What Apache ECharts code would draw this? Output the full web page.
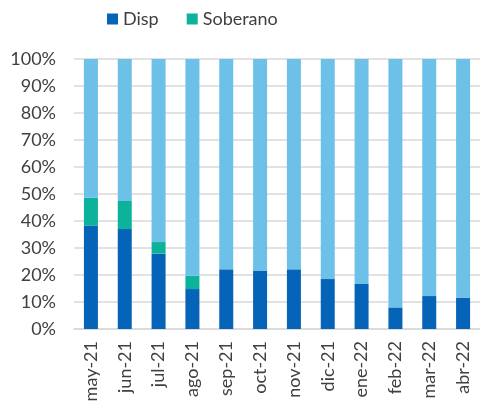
<!DOCTYPE html>
<html>
<head>
<meta charset="utf-8">
<script src="https://cdn.jsdelivr.net/npm/echarts@6/dist/echarts.min.js"></script>
<style>
  html, body { margin: 0; padding: 0; background: #fff; }
  #chart { width: 480px; height: 405px; }
</style>
</head>
<body>
<div id="chart"></div>
<script>
  const months = ['may-21', 'jun-21', 'jul-21', 'ago-21', 'sep-21', 'oct-21', 'nov-21', 'dic-21', 'ene-22', 'feb-22', 'mar-22', 'abr-22'];
  const disp = [38.3, 37.0, 27.9, 14.8, 22.1, 21.5, 22.1, 18.5, 16.7, 8.0, 12.2, 11.6];
  const soberano = [10.3, 10.4, 4.3, 4.9, 0, 0, 0, 0, 0, 0, 0, 0];
  const resto = [51.4, 52.6, 67.8, 80.3, 77.9, 78.5, 77.9, 81.5, 83.3, 92.0, 87.8, 88.4];

  const chart = echarts.init(document.getElementById('chart'));

  chart.setOption({
    animation: false,
    textStyle: { fontFamily: 'Lato' },
    legend: {
      data: ['Disp', 'Soberano'],
      top: 5,
      left: 102,
      itemWidth: 11,
      itemHeight: 11,
      itemGap: 28,
      icon: 'rect',
      textStyle: { fontSize: 18, color: '#404040' },
    },
    grid: { left: 74, right: -2, top: 59, bottom: 76 },
    xAxis: {
      type: 'category',
      data: months,
      axisTick: { show: false },
      axisLine: { lineStyle: { color: '#d9d9d9', width: 1.5 } },
      axisLabel: { rotate: 90, fontSize: 18, color: '#404040', margin: 12 },
    },
    yAxis: {
      type: 'value',
      min: 0,
      max: 100,
      interval: 10,
      axisLabel: { formatter: '{value}%', fontSize: 18, color: '#404040', margin: 18 },
      splitLine: { lineStyle: { color: '#d9d9d9', width: 1.5 } },
    },
    series: [
      {
        name: 'Disp',
        type: 'bar',
        stack: 'total',
        barWidth: 14,
        data: disp,
        itemStyle: { color: '#0563b8' },
      },
      {
        name: 'Soberano',
        type: 'bar',
        stack: 'total',
        data: soberano,
        itemStyle: { color: '#0cb29a' },
      },
      {
        name: 'Resto',
        type: 'bar',
        stack: 'total',
        data: resto,
        itemStyle: { color: '#6dc1e9' },
      },
    ],
  });
</script>
</body>
</html>
